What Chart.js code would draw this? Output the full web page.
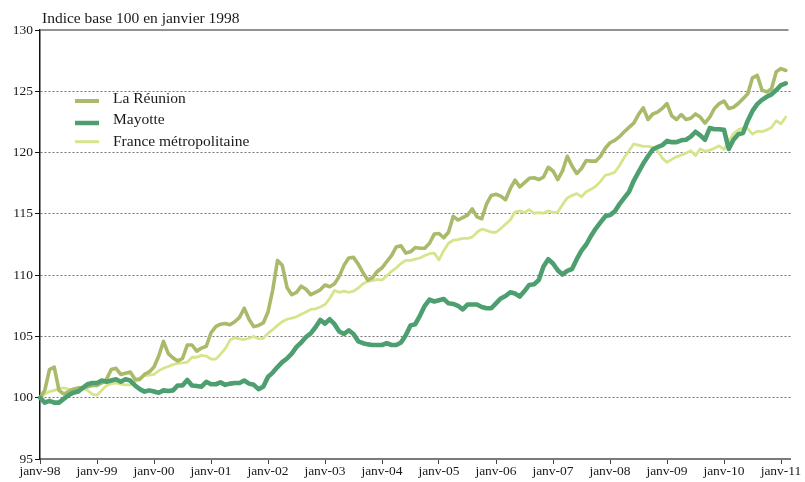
<!DOCTYPE html>
<html>
<head>
<meta charset="utf-8">
<script src="https://cdn.jsdelivr.net/npm/chart.js@4.4.1/dist/chart.umd.min.js"></script>
<style>
  body { margin: 0; background: #fff; }
</style>
</head>
<body>
<canvas id="indexChart" width="805" height="482"></canvas>
<script>
const ctx = document.getElementById('indexChart');

//Prepare data
var title = 'Indice base 100 en janvier 1998';
var monthNames = ['janv', 'févr', 'mars', 'avr', 'mai', 'juin', 'juil', 'août', 'sept', 'oct', 'nov', 'déc'];
var years = ['98', '99', '00', '01', '02', '03', '04', '05', '06', '07', '08', '09', '10', '11'];
var yTicks = [95, 100, 105, 110, 115, 120, 125, 130];

// one label per month, janv-98 .. mars-11
var months = [];
years.forEach(function (y) {
    monthNames.forEach(function (m) {
        if (months.length < 159) months.push(m + '-' + y);
    });
});

var reunion = [
    100.0, 100.6, 102.3, 102.5, 100.6, 100.3, 100.5, 100.7, 100.8, 100.8,
    100.9, 101.0, 101.0, 101.2, 101.5, 102.3, 102.4, 101.9, 102.0, 102.1,
    101.5, 101.5, 101.9, 102.1, 102.5, 103.4, 104.6, 103.6, 103.25, 103.0,
    103.2, 104.3, 104.3, 103.8, 104.05, 104.2, 105.3, 105.8, 106.0, 106.05,
    105.95, 106.2, 106.55, 107.3, 106.4, 105.8, 105.9, 106.1, 107.0, 108.8,
    111.2, 110.8, 109.0, 108.4, 108.6, 109.1, 108.85, 108.4, 108.6, 108.8,
    109.2, 109.05, 109.3, 109.9, 110.8, 111.4, 111.45, 110.9, 110.2, 109.6,
    109.8, 110.3, 110.6, 111.1, 111.6, 112.3, 112.4, 111.8, 111.9, 112.25,
    112.2, 112.2, 112.6, 113.35, 113.4, 113.05, 113.5, 114.8, 114.5, 114.7,
    114.9, 115.4, 114.75, 114.6, 115.8, 116.5, 116.6, 116.45, 116.15, 117.05,
    117.75, 117.2, 117.55, 117.9, 117.95, 117.8, 118.0, 118.8, 118.5, 117.8,
    118.5, 119.7, 118.9, 118.3, 118.7, 119.35, 119.3, 119.3, 119.7, 120.35,
    120.8, 121.0, 121.3, 121.7, 122.05, 122.4, 123.1, 123.65, 122.7, 123.15,
    123.3, 123.6, 124.0, 123.0, 122.7, 123.1, 122.7, 122.8, 123.15, 122.9,
    122.4, 122.9, 123.6, 124.0, 124.2, 123.6, 123.7, 124.0, 124.4, 124.8,
    126.1, 126.3, 125.1, 124.95, 125.2, 126.6, 126.85, 126.7
];
var mayotte = [
    100.0, 99.6, 99.75, 99.6, 99.6, 99.9, 100.2, 100.4, 100.5, 100.8,
    101.1, 101.2, 101.2, 101.4, 101.3, 101.4, 101.5, 101.3, 101.5, 101.4,
    101.0, 100.7, 100.5, 100.6, 100.5, 100.4, 100.6, 100.55, 100.6, 101.0,
    101.0, 101.45, 101.0, 100.95, 100.9, 101.3, 101.1, 101.1, 101.25, 101.05,
    101.15, 101.2, 101.2, 101.4, 101.15, 101.05, 100.7, 100.9, 101.7, 102.05,
    102.5, 102.9, 103.2, 103.6, 104.15, 104.5, 104.95, 105.25, 105.75, 106.35,
    106.05, 106.4, 106.0, 105.4, 105.2, 105.5, 105.2, 104.6, 104.45, 104.35,
    104.3, 104.3, 104.3, 104.45, 104.3, 104.3, 104.5, 105.1, 105.9, 106.0,
    106.7, 107.5, 108.0, 107.85, 107.95, 108.05, 107.7, 107.65, 107.5, 107.2,
    107.6, 107.6, 107.6, 107.4, 107.3, 107.3, 107.7, 108.1, 108.3, 108.6,
    108.5, 108.25, 108.7, 109.2, 109.25, 109.6, 110.7, 111.3, 110.95, 110.4,
    110.05, 110.35, 110.5, 111.3, 112.0, 112.5, 113.2, 113.8, 114.3, 114.8,
    114.9, 115.2, 115.8, 116.3, 116.8, 117.7, 118.4, 119.1, 119.7, 120.25,
    120.45, 120.6, 120.95, 120.85, 120.85, 121.0, 121.05, 121.3, 121.7, 121.4,
    121.05, 122.0, 121.9, 121.9, 121.85, 120.3, 121.05, 121.5, 121.6, 122.6,
    123.4, 123.95, 124.3, 124.55, 124.75, 125.1, 125.5, 125.65
];
var france = [
    100.0, 100.3, 100.5, 100.6, 100.75, 100.8, 100.7, 100.65, 100.7, 100.8,
    100.6, 100.3, 100.2, 100.6, 101.0, 101.15, 101.2, 101.1, 101.05, 101.05,
    101.3, 101.6, 101.8, 101.85, 101.9, 102.2, 102.4, 102.55, 102.7, 102.8,
    102.85, 102.9, 103.3, 103.3, 103.45, 103.4, 103.15, 103.15, 103.55, 104.0,
    104.7, 104.9, 104.8, 104.75, 104.85, 105.0, 104.8, 104.85, 105.25, 105.55,
    105.9, 106.2, 106.4, 106.5, 106.6, 106.8, 107.0, 107.2, 107.25, 107.4,
    107.6, 108.1, 108.75, 108.6, 108.7, 108.6, 108.7, 108.95, 109.3, 109.5,
    109.55, 109.65, 109.6, 109.95, 110.3, 110.6, 110.95, 111.2, 111.2, 111.3,
    111.4, 111.6, 111.75, 111.8, 111.25, 112.0, 112.6, 112.85, 112.9, 113.0,
    113.0, 113.1, 113.5, 113.75, 113.65, 113.5, 113.5, 113.8, 114.15, 114.5,
    115.15, 115.25, 115.1, 115.35, 115.05, 115.1, 115.05, 115.25, 115.1, 115.15,
    115.75, 116.3, 116.5, 116.65, 116.4, 116.8, 117.0, 117.25, 117.65, 118.15,
    118.25, 118.4, 118.95, 119.6, 120.15, 120.7, 120.6, 120.5, 120.5, 120.45,
    120.15, 119.55, 119.2, 119.45, 119.65, 119.8, 119.95, 120.15, 119.75, 120.3,
    120.1, 120.2, 120.35, 120.55, 120.25, 120.9, 121.55, 121.85, 122.0, 121.95,
    121.5, 121.75, 121.7, 121.85, 122.05, 122.6, 122.35, 122.9
];

var serif = '"Liberation Serif", "Times New Roman", serif';

// title, inside legend and the solid top line
const overlay = {
    id: 'overlay',
    afterDraw(chart) {
        const c = chart.ctx;
        const a = chart.chartArea;
        c.save();
        c.strokeStyle = '#6e6e6e';
        c.lineWidth = 1.5;
        c.beginPath();
        c.moveTo(a.left, a.top);
        c.lineTo(a.right - 2, a.top);
        c.stroke();

        c.fillStyle = '#1a1a1a';
        c.font = '15.5px ' + serif;
        c.textBaseline = 'alphabetic';
        c.fillText(title, 42, 23);

        var rows = [[101, 102.5], [123, 123.7], [141.7, 145.5]];
        chart.data.datasets.forEach(function (ds, i) {
            c.strokeStyle = ds.borderColor;
            c.lineWidth = ds.legendWidth;
            c.beginPath();
            c.moveTo(75, rows[i][0]);
            c.lineTo(99, rows[i][0]);
            c.stroke();
            c.fillText(ds.label, 113, rows[i][1]);
        });
        c.restore();
    }
};

//Create chart
new Chart(ctx, {
    type: 'line',
    data: {
        labels: months,
        datasets: [
            {
                label: 'La Réunion',
                data: reunion,
                borderColor: '#a9ba6b',
                borderWidth: 3.6,
                legendWidth: 4,
                order: 1
            },
            {
                label: 'Mayotte',
                data: mayotte,
                borderColor: '#4e9f70',
                borderWidth: 4.6,
                legendWidth: 4.5,
                order: 0
            },
            {
                label: 'France métropolitaine',
                data: france,
                borderColor: '#d6e58c',
                borderWidth: 2.8,
                legendWidth: 3,
                order: 2
            }
        ]
    },
    options: {
        responsive: false,
        animation: false,
        events: [],
        layout: { padding: { top: 30, right: 14.5, left: 0, bottom: 0 } },
        elements: {
            point: { radius: 0 },
            line: { tension: 0, borderJoinStyle: 'round', borderCapStyle: 'round' }
        },
        plugins: {
            legend: { display: false },
            tooltip: { enabled: false }
        },
        scales: {
            x: {
                type: 'category',
                offset: false,
                afterFit: function (scale) { scale.height = 23; },
                grid: {
                    drawOnChartArea: false,
                    drawTicks: true,
                    tickLength: 5,
                    color: function (c) { return c.index % 12 === 0 ? '#444' : 'rgba(0,0,0,0)'; }
                },
                border: { color: '#7a7a7a', width: 2 },
                ticks: {
                    autoSkip: false,
                    maxRotation: 0,
                    minRotation: 0,
                    padding: -1,
                    color: '#1a1a1a',
                    font: { family: serif, size: 13.5 },
                    callback: function (v, i) { return i % 12 === 0 ? months[i] : ''; }
                }
            },
            y: {
                min: yTicks[0],
                max: yTicks[yTicks.length - 1],
                afterFit: function (scale) { scale.width = 40; },
                afterBuildTicks: function (scale) {
                    scale.ticks = yTicks.map(function (v) { return { value: v }; });
                },
                grid: {
                    color: function (c) {
                        var v = c.tick && c.tick.value;
                        return (v === 95 || v === 130) ? 'rgba(0,0,0,0)' : '#767676';
                    },
                    lineWidth: 1,
                    tickLength: 5,
                    tickColor: '#111',
                    tickBorderDash: []
                },
                border: { color: '#111', width: 1.5, dash: [2, 2] },
                ticks: {
                    padding: 2,
                    color: '#1a1a1a',
                    font: { family: serif, size: 13.5 }
                }
            }
        }
    },
    plugins: [overlay]
});
</script>
</body>
</html>
